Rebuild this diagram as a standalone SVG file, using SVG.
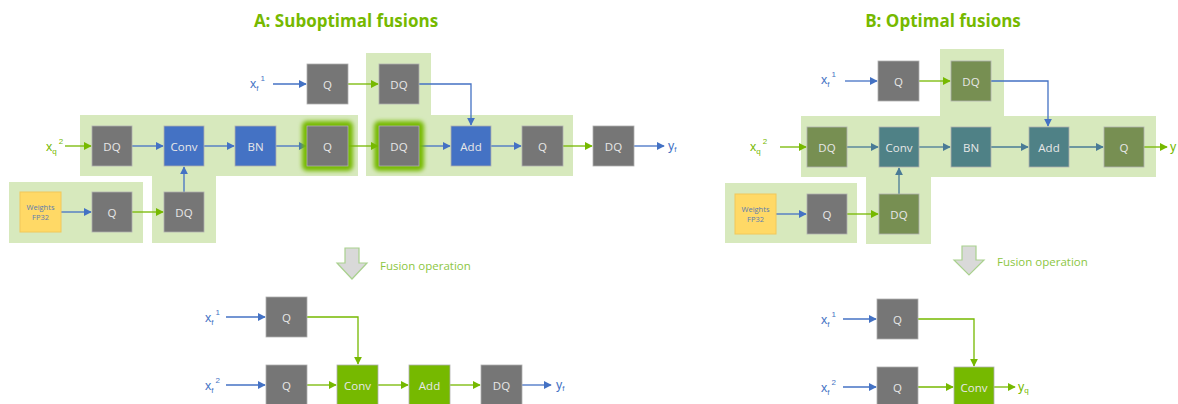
<svg xmlns="http://www.w3.org/2000/svg" width="1178" height="404" viewBox="0 0 1178 404">
<style>
.bg{fill:#ffffff}
.region{fill:#d7e9bd}
.box{stroke:#b0b0b0;stroke-width:0.8}
.gray{fill:#767676}
.blue{fill:#4472c4}
.teal{fill:#4f8186}
.olive{fill:#778f52}
.green{fill:#76b900}
.yellow{fill:#ffd966;stroke:#f2c85a}
.lbl{font-family:"Open Sans","Liberation Sans",Arial,sans-serif;font-size:11.5px;fill:#e8e8e8;text-anchor:middle;dominant-baseline:central}
.wlbl{font-family:"Open Sans","Liberation Sans",Arial,sans-serif;font-size:7.5px;fill:#5b7bb0;text-anchor:middle}
.title{font-family:"Open Sans","Liberation Sans",sans-serif;font-size:17px;font-weight:bold;fill:#76b900;text-anchor:middle}
.fus{font-family:"Open Sans","Liberation Sans",sans-serif;font-size:11.5px;fill:#8cc63f}
.vb{font-family:"Liberation Sans",Arial,sans-serif;font-size:12.5px;fill:#4472c4}
.vg{font-family:"Liberation Sans",Arial,sans-serif;font-size:12.5px;fill:#76b900}
.sub{font-size:8px}
.eb{fill:none;stroke:#4472c4;stroke-width:1.3;marker-end:url(#ab)}
.eg{fill:none;stroke:#76b900;stroke-width:1.3;marker-end:url(#ag)}
.es{fill:none;stroke:#4a7b96;stroke-width:1.3;marker-end:url(#as)}
.farrow{fill:#d9d9d9;stroke:#a9d18e;stroke-width:1.2}
</style>
<defs>
<marker id="ab" viewBox="0 0 10 10" refX="9" refY="5" markerWidth="8" markerHeight="8" markerUnits="userSpaceOnUse" orient="auto"><path d="M0,0 L10,5 L0,10 Z" fill="#4472c4"/></marker>
<marker id="ag" viewBox="0 0 10 10" refX="9" refY="5" markerWidth="8" markerHeight="8" markerUnits="userSpaceOnUse" orient="auto"><path d="M0,0 L10,5 L0,10 Z" fill="#76b900"/></marker>
<marker id="as" viewBox="0 0 10 10" refX="9" refY="5" markerWidth="8" markerHeight="8" markerUnits="userSpaceOnUse" orient="auto"><path d="M0,0 L10,5 L0,10 Z" fill="#4a7b96"/></marker>
<filter id="glow" x="-30%" y="-30%" width="160%" height="160%"><feGaussianBlur stdDeviation="2"/></filter>
</defs>
<rect class="bg" x="0" y="0" width="1178" height="404"/>

<text class="title" x="346" y="27">A: Suboptimal fusions</text>
<text class="title" x="943" y="27">B: Optimal fusions</text>

<g id="regions">
<path class="region" d="M80,115 H358 V176 H216 V243 H152 V176 H80 Z"/>
<rect class="region" x="9" y="182" width="134" height="61"/>
<path class="region" d="M366,53 H431 V115 H573 V176 H366 Z"/>
<path class="region" d="M940,49 H1004 V116 H1156 V177 H931 V244 H866 V177 H801 V116 H940 Z"/>
<rect class="region" x="725" y="183" width="132" height="60"/>
</g>

<g id="labels">
<text class="vb" x="250" y="88">x<tspan class="sub" dy="3">f</tspan><tspan class="sub" dx="2" dy="-10">1</tspan></text>
<text class="vg" x="46" y="151">x<tspan class="sub" dy="3">q</tspan><tspan class="sub" dx="2" dy="-10">2</tspan></text>
<text class="vb" x="668" y="150">y<tspan class="sub" dy="2">f</tspan></text>
<text class="vb" x="821" y="84">x<tspan class="sub" dy="3">f</tspan><tspan class="sub" dx="2" dy="-10">1</tspan></text>
<text class="vg" x="750" y="151">x<tspan class="sub" dy="3">q</tspan><tspan class="sub" dx="2" dy="-10">2</tspan></text>
<text class="vg" x="1170" y="151">y</text>
<text class="vb" x="205" y="322">x<tspan class="sub" dy="3">f</tspan><tspan class="sub" dx="2" dy="-10">1</tspan></text>
<text class="vb" x="205" y="390">x<tspan class="sub" dy="3">f</tspan><tspan class="sub" dx="2" dy="-10">2</tspan></text>
<text class="vb" x="556" y="389">y<tspan class="sub" dy="2">f</tspan></text>
<text class="vb" x="821" y="324">x<tspan class="sub" dy="3">f</tspan><tspan class="sub" dx="2" dy="-10">1</tspan></text>
<text class="vb" x="821" y="392">x<tspan class="sub" dy="3">f</tspan><tspan class="sub" dx="2" dy="-10">2</tspan></text>
<text class="vg" x="1018" y="391">y<tspan class="sub" dy="2">q</tspan></text>
</g>

<g id="connectors">
<path class="eb" d="M273,84 H306"/>
<path class="eg" d="M348,84 H378"/>
<path class="eb" d="M419,84 H471 V125"/>
<path class="eg" d="M65,146 H91"/>
<path class="eb" d="M132,146 H163"/>
<path class="eb" d="M204,146 H234"/>
<path class="eb" d="M276,146 H306"/>
<path class="eg" d="M348,146 H378"/>
<path class="eb" d="M419,146 H450"/>
<path class="eb" d="M491,146 H521"/>
<path class="eg" d="M563,146 H592"/>
<path class="eb" d="M634,146 H664"/>
<path class="eb" d="M61,212 H91"/>
<path class="eg" d="M132,212 H163"/>
<path class="eb" d="M184,192 V167"/>
<path class="eb" d="M845,81 H877"/>
<path class="eg" d="M919,81 H950"/>
<path class="eb" d="M991,81 H1048 V126"/>
<path class="eg" d="M780,147 H806"/>
<path class="es" d="M847,147 H878"/>
<path class="es" d="M919,147 H950"/>
<path class="es" d="M991,147 H1028"/>
<path class="es" d="M1069,147 H1103"/>
<path class="eg" d="M1144,147 H1167"/>
<path class="eb" d="M776,214 H806"/>
<path class="eg" d="M847,214 H878"/>
<path class="es" d="M899,194 V168"/>
<path class="eb" d="M226,317 H265"/>
<path class="eg" d="M307,317 H358 V364"/>
<path class="eb" d="M226,385 H265"/>
<path class="eg" d="M307,385 H336"/>
<path class="eg" d="M378,385 H408"/>
<path class="eg" d="M450,385 H480"/>
<path class="eb" d="M522,385 H551"/>
<path class="eb" d="M843,319 H876"/>
<path class="eg" d="M918,319 H974 V366"/>
<path class="eb" d="M843,387 H876"/>
<path class="eg" d="M918,387 H953"/>
<path class="eg" d="M994,387 H1015"/>
</g>

<g id="fusionA">
<path class="farrow" d="M345,248 H359 V263 H367 L352,279 L337,263 H345 Z"/>
<text class="fus" x="380" y="270">Fusion operation</text>
</g>
<g id="fusionB">
<path class="farrow" d="M962,246 H976 V260 H984 L969,275 L954,260 H962 Z"/>
<text class="fus" x="997" y="266">Fusion operation</text>
</g>

<g id="A_Qx1"><rect class="box gray" x="307" y="64" width="41" height="40"/><text class="lbl" x="327.5" y="84">Q</text></g>
<g id="A_DQx1"><rect class="box gray" x="379" y="64" width="40" height="40"/><text class="lbl" x="399" y="84">DQ</text></g>
<g id="A_DQx2"><rect class="box gray" x="92" y="126" width="40" height="40"/><text class="lbl" x="112" y="146">DQ</text></g>
<g id="A_Conv"><rect class="box blue" x="164" y="126" width="40" height="40"/><text class="lbl" x="184" y="146">Conv</text></g>
<g id="A_BN"><rect class="box blue" x="235" y="126" width="41" height="40"/><text class="lbl" x="255.5" y="146">BN</text></g>
<g id="A_Qglow"><rect x="302" y="121" width="51" height="50" rx="5" fill="#76b900" filter="url(#glow)"/><rect class="box gray" x="307" y="126" width="41" height="40"/><text class="lbl" x="327.5" y="146">Q</text></g>
<g id="A_DQglow"><rect x="374" y="121" width="50" height="50" rx="5" fill="#76b900" filter="url(#glow)"/><rect class="box gray" x="379" y="126" width="40" height="40"/><text class="lbl" x="399" y="146">DQ</text></g>
<g id="A_Add"><rect class="box blue" x="451" y="126" width="40" height="40"/><text class="lbl" x="471" y="146">Add</text></g>
<g id="A_Qout"><rect class="box gray" x="522" y="126" width="41" height="40"/><text class="lbl" x="542.5" y="146">Q</text></g>
<g id="A_DQout"><rect class="box gray" x="593" y="126" width="41" height="40"/><text class="lbl" x="613.5" y="146">DQ</text></g>
<g id="A_Weights"><rect class="yellow" x="20" y="192" width="41" height="40"/><text class="wlbl" x="40.5" y="210">Weights</text><text class="wlbl" x="40.5" y="220">FP32</text></g>
<g id="A_Qw"><rect class="box gray" x="92" y="192" width="40" height="40"/><text class="lbl" x="112" y="212">Q</text></g>
<g id="A_DQw"><rect class="box gray" x="164" y="192" width="40" height="40"/><text class="lbl" x="184" y="212">DQ</text></g>

<g id="B_Qx1"><rect class="box gray" x="878" y="61" width="41" height="40"/><text class="lbl" x="898.5" y="81">Q</text></g>
<g id="B_DQx1"><rect class="box olive" x="951" y="61" width="40" height="40"/><text class="lbl" x="971" y="81">DQ</text></g>
<g id="B_DQx2"><rect class="box olive" x="807" y="127" width="40" height="40"/><text class="lbl" x="827" y="147">DQ</text></g>
<g id="B_Conv"><rect class="box teal" x="879" y="127" width="40" height="40"/><text class="lbl" x="899" y="147">Conv</text></g>
<g id="B_BN"><rect class="box teal" x="951" y="127" width="40" height="40"/><text class="lbl" x="971" y="147">BN</text></g>
<g id="B_Add"><rect class="box teal" x="1029" y="127" width="40" height="40"/><text class="lbl" x="1049" y="147">Add</text></g>
<g id="B_Qout"><rect class="box olive" x="1104" y="127" width="40" height="40"/><text class="lbl" x="1124" y="147">Q</text></g>
<g id="B_Weights"><rect class="yellow" x="735" y="194" width="41" height="40"/><text class="wlbl" x="755.5" y="212">Weights</text><text class="wlbl" x="755.5" y="222">FP32</text></g>
<g id="B_Qw"><rect class="box gray" x="807" y="194" width="40" height="40"/><text class="lbl" x="827" y="214">Q</text></g>
<g id="B_DQw"><rect class="box olive" x="879" y="194" width="40" height="40"/><text class="lbl" x="899" y="214">DQ</text></g>

<g id="AF_Q1"><rect class="box gray" x="266" y="297" width="41" height="40"/><text class="lbl" x="286.5" y="317">Q</text></g>
<g id="AF_Q2"><rect class="box gray" x="266" y="365" width="41" height="40"/><text class="lbl" x="286.5" y="385">Q</text></g>
<g id="AF_Conv"><rect class="box green" x="337" y="365" width="41" height="40"/><text class="lbl" x="357.5" y="385">Conv</text></g>
<g id="AF_Add"><rect class="box green" x="409" y="365" width="41" height="40"/><text class="lbl" x="429.5" y="385">Add</text></g>
<g id="AF_DQ"><rect class="box gray" x="481" y="365" width="41" height="40"/><text class="lbl" x="501.5" y="385">DQ</text></g>

<g id="BF_Q1"><rect class="box gray" x="877" y="299" width="41" height="40"/><text class="lbl" x="897.5" y="319">Q</text></g>
<g id="BF_Q2"><rect class="box gray" x="877" y="367" width="41" height="40"/><text class="lbl" x="897.5" y="387">Q</text></g>
<g id="BF_Conv"><rect class="box green" x="954" y="367" width="40" height="40"/><text class="lbl" x="974" y="387">Conv</text></g>
</svg>
